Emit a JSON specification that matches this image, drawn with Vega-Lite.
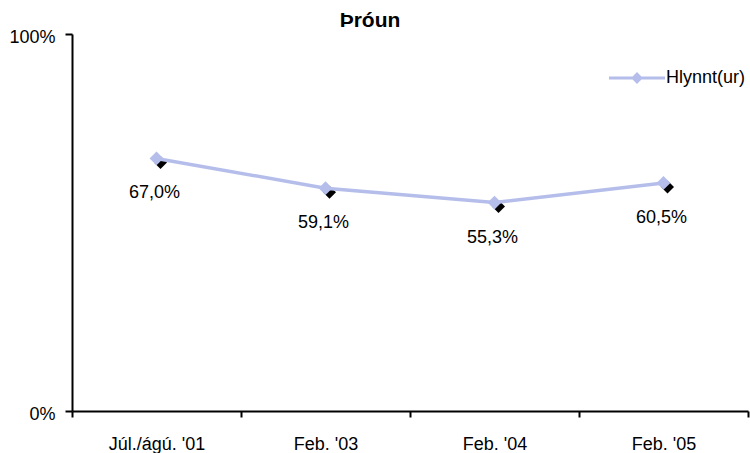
{
  "$schema": "https://vega.github.io/schema/vega-lite/v6.json",
  "autosize": {"type": "fit", "contains": "padding"},
  "width": 750,
  "height": 453,
  "padding": {"left": 8, "top": 10, "right": 1, "bottom": 0},
  "background": "white",
  "title": {
    "text": "Þróun",
    "font": "Liberation Sans",
    "fontSize": 21,
    "fontWeight": "bold",
    "color": "black",
    "anchor": "middle",
    "frame": "bounds",
    "dx": -9,
    "offset": -3
  },
  "data": {
    "values": [
      {"timi": "Júl./ágú. '01", "ord": 1, "hopur": "Hlynnt(ur)", "hlutfall": 0.670},
      {"timi": "Feb. '03", "ord": 2, "hopur": "Hlynnt(ur)", "hlutfall": 0.591},
      {"timi": "Feb. '04", "ord": 3, "hopur": "Hlynnt(ur)", "hlutfall": 0.553},
      {"timi": "Feb. '05", "ord": 4, "hopur": "Hlynnt(ur)", "hlutfall": 0.605}
    ]
  },
  "encoding": {
    "x": {
      "field": "timi",
      "type": "ordinal",
      "sort": {"field": "ord"},
      "title": null,
      "scale": {"paddingInner": 0, "paddingOuter": 0},
      "axis": {
        "labelAngle": 0,
        "tickBand": "extent",
        "labelBaseline": "alphabetic",
        "labelPadding": 32,
        "tickSize": 6
      }
    },
    "y": {
      "field": "hlutfall",
      "type": "quantitative",
      "title": null,
      "scale": {"domain": [0, 1]},
      "axis": {"values": [0, 1], "format": ".0%", "grid": false, "tickSize": 7, "labelPadding": 10, "labelOffset": 3}
    }
  },
  "layer": [
    {
      "mark": {"type": "point", "shape": "diamond", "filled": true, "color": "black", "opacity": 1, "size": 170, "xOffset": 4, "yOffset": 4}
    },
    {
      "mark": {"type": "line", "strokeWidth": 3.5},
      "encoding": {
        "color": {
          "field": "hopur",
          "type": "nominal",
          "title": null,
          "scale": {"range": ["#b5beea"]},
          "legend": {
            "orient": "none",
            "legendX": 537,
            "legendY": 16,
            "symbolType": "M-1,-0.055L1,-0.055L1,0.055L-1,0.055Z M0,-0.21L0.21,0L0,0.21L-0.21,0Z",
            "symbolSize": 3136,
            "symbolStrokeWidth": 0,
            "symbolFillColor": "#b5beea",
            "labelFontSize": 18,
            "labelOffset": 1,
            "padding": 0
          }
        }
      }
    },
    {
      "mark": {"type": "point", "shape": "diamond", "filled": true, "color": "#b5beea", "opacity": 1, "size": 190}
    },
    {
      "mark": {"type": "text", "baseline": "alphabetic", "dy": 40, "dx": -2, "fontSize": 18, "font": "Liberation Sans", "color": "black"},
      "encoding": {"text": {"field": "hlutfall", "type": "quantitative", "format": ".1%"}}
    }
  ],
  "config": {
    "locale": {"number": {"decimal": ",", "thousands": ".", "grouping": [3], "currency": ["", " kr."]}},
    "view": {"stroke": null},
    "font": "Liberation Sans",
    "axis": {
      "domainColor": "black",
      "domainWidth": 2,
      "tickColor": "black",
      "tickWidth": 2,
      "labelColor": "black",
      "labelFont": "Liberation Sans",
      "labelFontSize": 18
    },
    "legend": {"labelFont": "Liberation Sans", "labelColor": "black"}
  }
}
